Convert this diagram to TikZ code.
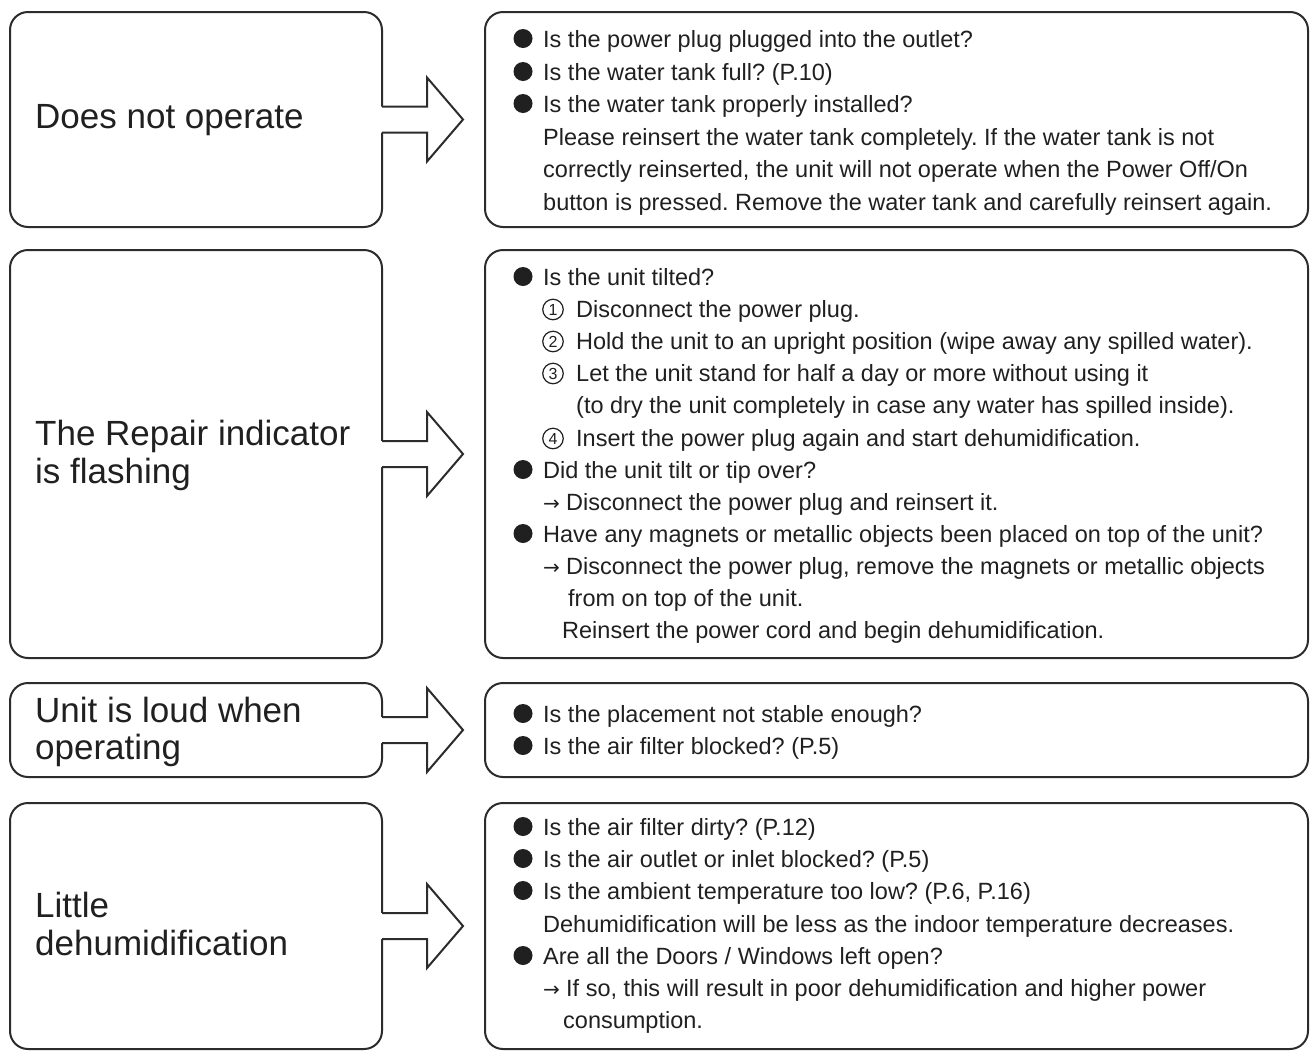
\documentclass[tikz,border=0pt]{standalone}
\usepackage{fontspec}
\setmainfont{Liberation Sans}
\newfontfamily\symf{DejaVu Sans}
\usetikzlibrary{calc}
\definecolor{ink}{HTML}{202020}
\definecolor{edge}{HTML}{2C2C2C}
\tikzset{
  box/.style={draw=edge, line width=2pt, rounded corners=18pt, fill=white,
    inner sep=0pt, outer sep=0pt, anchor=north west},
  lbl/.style={anchor=base west, inner sep=0pt, text=ink, font=\fontsize{35}{40}\selectfont},
  txt/.style={anchor=base west, inner sep=0pt, text=ink, font=\fontsize{23.5}{28}\selectfont},
  dot/.style={circle, fill=ink, inner sep=0pt, minimum size=19pt},
  num/.style={circle, draw=ink, line width=1.2pt, inner sep=0pt, minimum size=20.5pt,
    text=ink, font=\fontsize{16}{16}\selectfont},
  arr/.style={anchor=base west, inner sep=0pt, text=ink, font=\symf\fontsize{20}{24}\selectfont},
  blockarrow/.style={draw=edge, line width=2pt, line join=miter},
}
\newcommand\tl[4]{\node[txt] (#1) at (#2,#3) {#4};}
\newcommand\bl[3]{\node[dot] (#1d) at (523,#2-8.5) {}; \node[txt] (#1) at (543,#2) {#3};}
\newcommand\nl[4]{\node[num] (#1n) at (553,#2-7.5) {#3}; \node[txt] (#1) at (576,#2) {#4};}
\newcommand\al[4]{\node[arr] (#1a) at (543,#2) {→}; \node[txt] (#1) at (#3,#2) {#4};}
\newcommand\barrow[1]{%
  \fill[white] ($(#1.east)+(-2.5,-13)$) -- ++(47.5,0) -- ++(0,-29) -- ($(#1.east)+(81,0)$)
     -- ($(#1.east)+(45,42)$) -- ++(0,-29) -- ($(#1.east)+(-2.5,13)$) -- cycle;
  \draw[blockarrow] ($(#1.east)+(0,-13)$) -- ++(45,0) -- ++(0,-29) -- ($(#1.east)+(81,0)$)
     -- ($(#1.east)+(45,42)$) -- ++(0,-29) -- ($(#1.east)+(0,13)$);}
\frenchspacing
\begin{document}
\frenchspacing
\begin{tikzpicture}[x=1pt, y=-1pt]
\useasboundingbox[fill=white] (0,0) rectangle (1312,1053);

% left boxes
\node[box, minimum width=372pt, minimum height=215pt] (L1) at (10,12) {};
\node[box, minimum width=372pt, minimum height=408pt] (L2) at (10,250) {};
\node[box, minimum width=372pt, minimum height=94pt]  (L3) at (10,683) {};
\node[box, minimum width=372pt, minimum height=246pt] (L4) at (10,803) {};
% right boxes
\node[box, minimum width=823pt, minimum height=215pt] (R1) at (485,12) {};
\node[box, minimum width=823pt, minimum height=408pt] (R2) at (485,250) {};
\node[box, minimum width=823pt, minimum height=94pt]  (R3) at (485,683) {};
\node[box, minimum width=823pt, minimum height=246pt] (R4) at (485,803) {};

% block arrows
\barrow{L1}
\barrow{L2}
\barrow{L3}
\barrow{L4}

% left labels
\node[lbl] (a1) at (35,128) {Does not operate};
\node[lbl] (a2) at (35,445) {The Repair indicator};
\node[lbl] (a2b) at (35,483) {is flashing};
\node[lbl] (a3) at (35,722) {Unit is loud when};
\node[lbl] (a3b) at (35,759) {operating};
\node[lbl] (a4) at (35,917) {Little};
\node[lbl] (a4b) at (35,955) {dehumidification};

% box 1 text
\bl{b1a}{47}{Is the power plug plugged into the outlet?}
\bl{b1b}{80}{Is the water tank full? (P.10)}
\bl{b1c}{112}{Is the water tank properly installed?}
\tl{b1d}{543}{145}{Please reinsert the water tank completely. If the water tank is not}
\tl{b1e}{543}{177}{correctly reinserted, the unit will not operate when the Power Off/On}
\tl{b1f}{543}{210}{button is pressed. Remove the water tank and carefully reinsert again.}

% box 2 text
\bl{b2a}{285}{Is the unit tilted?}
\nl{b2b}{317}{1}{Disconnect the power plug.}
\nl{b2c}{349}{2}{Hold the unit to an upright position (wipe away any spilled water).}
\nl{b2d}{381}{3}{Let the unit stand for half a day or more without using it}
\tl{b2e}{576}{413}{(to dry the unit completely in case any water has spilled inside).}
\nl{b2f}{446}{4}{Insert the power plug again and start dehumidification.}
\bl{b2g}{478}{Did the unit tilt or tip over?}
\al{b2h}{510}{566}{Disconnect the power plug and reinsert it.}
\bl{b2i}{542}{Have any magnets or metallic objects been placed on top of the unit?}
\al{b2j}{574}{566}{Disconnect the power plug, remove the magnets or metallic objects}
\tl{b2k}{568}{606}{from on top of the unit.}
\tl{b2l}{562}{638}{Reinsert the power cord and begin dehumidification.}

% box 3 text
\bl{b3a}{722}{Is the placement not stable enough?}
\bl{b3b}{754}{Is the air filter blocked? (P.5)}

% box 4 text
\bl{b4a}{835}{Is the air filter dirty? (P.12)}
\bl{b4b}{867}{Is the air outlet or inlet blocked? (P.5)}
\bl{b4c}{899}{Is the ambient temperature too low? (P.6, P.16)}
\tl{b4d}{543}{932}{Dehumidification will be less as the indoor temperature decreases.}
\bl{b4e}{964}{Are all the Doors / Windows left open?}
\al{b4f}{996}{566}{If so, this will result in poor dehumidification and higher power}
\tl{b4g}{563}{1028}{consumption.}
\end{tikzpicture}
\end{document}
